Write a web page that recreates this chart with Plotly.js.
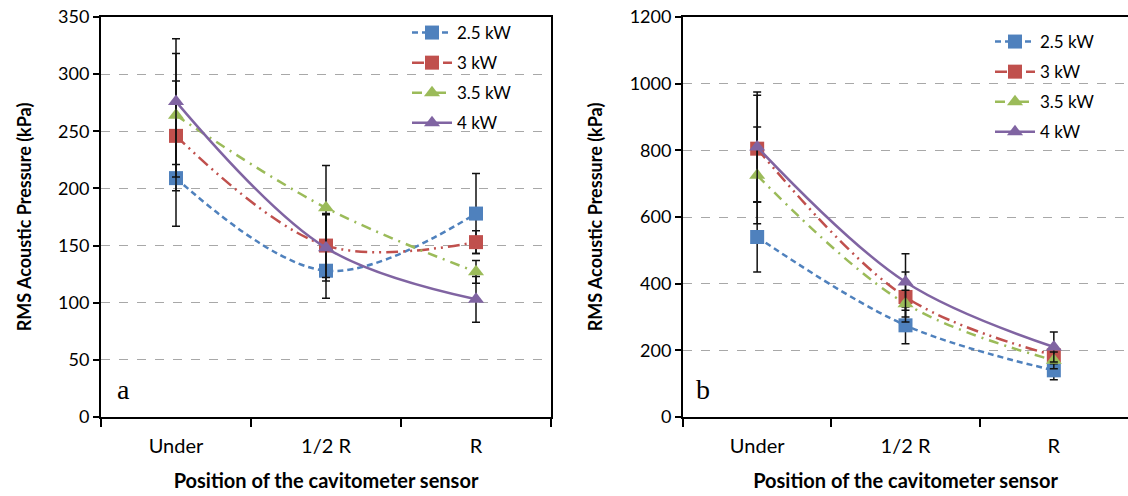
<!DOCTYPE html>
<html>
<head>
<meta charset="utf-8">
<script src="https://cdn.plot.ly/plotly-3.0.1.min.js"></script>
<style>html,body{margin:0;padding:0;background:#fff}#chart{width:1128px;height:496px}</style>
</head>
<body>
<div id="chart"></div>
<script>
const positions = ["Under", "1/2 R", "R"];
const seriesNames = ["2.5 kW", "3 kW", "3.5 kW", "4 kW"];

// Panel a
const a_25 = [209, 128, 178];
const a_3 = [246, 150, 153];
const a_35 = [264, 183, 127];
const a_4 = [276, 148, 103];
const a_err_25 = [42, 24, 35];
const a_err_3 = [48, 28, 10];
const a_err_35 = [54, 37, 10];
const a_err_4 = [55, 29, 20];

// Panel b
const b_25 = [540, 275, 140];
const b_3 = [805, 360, 185];
const b_35 = [725, 340, 170];
const b_4 = [810, 405, 210];
const b_err_25 = [105, 55, 28];
const b_err_3 = [160, 75, 25];
const b_err_35 = [145, 40, 25];
const b_err_4 = [165, 85, 45];

const colors = ["#4F81BD", "#C0504D", "#9BBB59", "#8064A2"];
const symbols = ["square", "square", "triangle-up", "triangle-up"];
const dashes = ["6px,4px", "12px,5px,2px,5px,2px,5px", "10px,6px,2px,6px", "solid"];

const FONT = "Lato, 'Open Sans', sans-serif";

function makeTraces(vals, errs, xa, ya, legendName) {
  return vals.map((v, i) => ({
    type: "scatter",
    mode: "lines+markers",
    x: positions,
    y: v,
    name: seriesNames[i],
    xaxis: xa, yaxis: ya,
    legend: legendName,
    legendgroup: legendName + i,
    line: {color: colors[i], width: 2.5, dash: dashes[i], shape: "spline", smoothing: 1},
    marker: {color: colors[i], symbol: symbols[i], size: 14},
    error_y: {type: "data", array: errs[i], visible: true, color: "#111", thickness: 1.5, width: 4}
  }));
}

const data = [].concat(
  makeTraces([a_25, a_3, a_35, a_4], [a_err_25, a_err_3, a_err_35, a_err_4], "x", "y", "legend"),
  makeTraces([b_25, b_3, b_35, b_4], [b_err_25, b_err_3, b_err_35, b_err_4], "x2", "y2", "legend2")
);

const ydom = [(496 - 417) / 496, (496 - 17) / 496];

function xAxis(domain, anchor) {
  return {
    domain: domain, anchor: anchor, type: "category", range: [-0.5, 2.5],
    showline: true, linecolor: "#000", linewidth: 2, mirror: true,
    ticks: "outside", tickson: "boundaries", ticklen: 8, tickwidth: 2, tickcolor: "#000",
    showgrid: false, zeroline: false,
    ticklabelstandoff: 10,
    tickfont: {family: FONT, size: 20, color: "#000"},
    title: {text: "Position of the cavitometer sensor", font: {family: FONT, size: 20, color: "#000", weight: "bold"}, standoff: 18}
  };
}
function yAxis(domain, anchor, range, dtick, mirror) {
  return {
    domain: domain, anchor: anchor, range: range, dtick: dtick, tick0: 0,
    showline: true, linecolor: "#000", linewidth: 2, mirror: mirror,
    ticks: "outside", ticklen: 6, tickwidth: 2, tickcolor: "#000",
    showgrid: true, gridcolor: "#a8a8a8", gridwidth: 1, griddash: "dash",
    zeroline: false,
    tickfont: {family: FONT, size: 18, color: "#000"},
    title: {text: "RMS Acoustic Pressure (kPa)", font: {family: FONT, size: 18, color: "#000", weight: "bold"}, standoff: 22}
  };
}

const legendBase = {
  yanchor: "top", xanchor: "left", bgcolor: "rgba(0,0,0,0)",
  font: {family: FONT, size: 17, color: "#000"}, tracegroupgap: 5, itemwidth: 40
};

const layout = {
  width: 1128, height: 496,
  margin: {l: 0, r: 0, t: 0, b: 0},
  paper_bgcolor: "#fff", plot_bgcolor: "#fff",
  showlegend: true,
  xaxis: xAxis([101 / 1128, 551 / 1128], "y"),
  yaxis: yAxis(ydom, "x", [0, 350], 50, true),
  xaxis2: xAxis([683 / 1128, 1.0], "y2"),
  yaxis2: yAxis(ydom, "x2", [0, 1200], 200, false),
  legend: Object.assign({x: 407 / 1128, y: (496 - 15) / 496}, legendBase),
  legend2: Object.assign({x: 990 / 1128, y: (496 - 24) / 496}, legendBase),
  annotations: [
    {text: "a", xref: "paper", yref: "paper", x: 115 / 1128, y: (496 - 389) / 496, xanchor: "left", yanchor: "middle", showarrow: false, font: {family: "'Liberation Serif', 'DejaVu Serif', serif", size: 28, color: "#000"}},
    {text: "b", xref: "paper", yref: "paper", x: 694 / 1128, y: (496 - 389) / 496, xanchor: "left", yanchor: "middle", showarrow: false, font: {family: "'Liberation Serif', 'DejaVu Serif', serif", size: 28, color: "#000"}}
  ]
};

Plotly.newPlot("chart", data, layout, {displayModeBar: false, staticPlot: true});
</script>
</body>
</html>
